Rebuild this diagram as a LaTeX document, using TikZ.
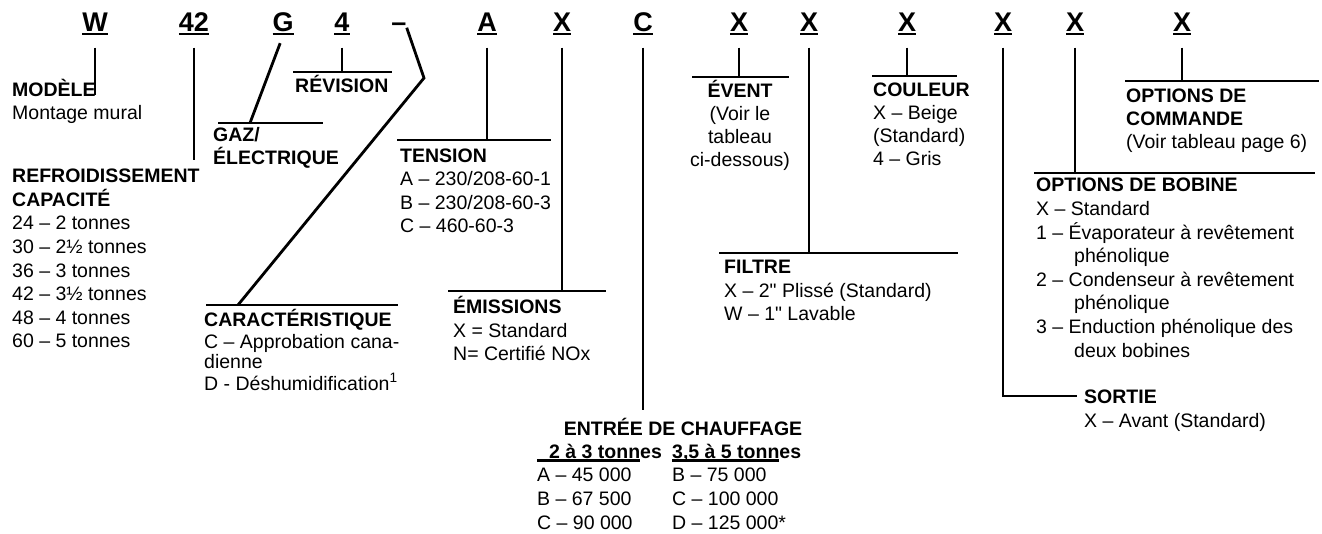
\documentclass[tikz,border=0pt]{standalone}
\usepackage{fontspec}
\setmainfont{Liberation Sans}
\newfontfamily\quotefont{Liberation Sans}

% thick underline under a piece of text
\newcommand{\ulbar}[1]{\setbox0\hbox{#1}\rlap{\rule[-3.5pt]{\wd0}{2.4pt}}\box0}
% straight inch mark
\newcommand{\inch}{{\quotefont"}}

\begin{document}
\begin{tikzpicture}[x=1pt, y=-1pt,
    code/.style={font=\fontsize{27}{30}\selectfont\bfseries, inner sep=0pt, anchor=base},
    field/.style={font=\fontsize{19.5}{23.6}\selectfont, align=left, anchor=base west, inner sep=0pt},
    lead/.style={line width=2.8pt},
    stem/.style={lead, shorten <=12pt}
]
    \useasboundingbox (0,0) rectangle (1322,534);

    % Model number characters
    \node[code] (cW) at (95,32) {\ulbar{W}};
    \node[code] (c42) at (194,32) {\ulbar{42}};
    \node[code] (cG) at (283,32) {\ulbar{G}};
    \node[code] (c4) at (342,32) {\ulbar{4}};
    \node[code] (cdash) at (399,32) {–};
    \node[code] (cA) at (487,32) {\ulbar{A}};
    \node[code] (cXemi) at (562,32) {\ulbar{X}};
    \node[code] (cC) at (643,32) {\ulbar{C}};
    \node[code] (cXeve) at (739,32) {\ulbar{X}};
    \node[code] (cXfil) at (809,32) {\ulbar{X}};
    \node[code] (cXcou) at (907,32) {\ulbar{X}};
    \node[code] (cXsor) at (1003,32) {\ulbar{X}};
    \node[code] (cXbob) at (1075,32) {\ulbar{X}};
    \node[code] (cXcom) at (1182,32) {\ulbar{X}};

    % Field descriptions (placed at the baseline of their last line)
    \node[field] (modele) at (12,120) {\textbf{MODÈLE}\\Montage mural};
    \node[field] (refroid) at (12,348) {\textbf{REFROIDISSEMENT}\\\textbf{CAPACITÉ}\\24 – 2 tonnes\\30 – 2½ tonnes\\36 – 3 tonnes\\42 – 3½ tonnes\\48 – 4 tonnes\\60 – 5 tonnes};
    \node[field] (gaz) at (213,165) {\textbf{GAZ/}\\\textbf{ÉLECTRIQUE}};
    \node[field] (revision) at (295,93) {\textbf{RÉVISION}};
    \node[field] (tension) at (400,233) {\textbf{TENSION}\\A – 230/208-60-1\\B – 230/208-60-3\\C – 460-60-3};
    \node[field, font=\fontsize{19.5}{21}\selectfont] (caract) at (204,390) {\textbf{CARACTÉRISTIQUE}\\C – Approbation cana-\\dienne\\D - Déshumidification\textsuperscript{1}};
    \node[field] (emissions) at (453,361) {\textbf{ÉMISSIONS}\\X = Standard\\N= Certifié NOx};
    \node[field, font=\fontsize{19.5}{23}\selectfont, align=center, anchor=base] (event) at (740,167) {\textbf{ÉVENT}\\(Voir le\\tableau\\ci-dessous)};
    \node[field] (filtre) at (724,321) {\textbf{FILTRE}\\X – 2\inch{} Plissé (Standard)\\W – 1\inch{} Lavable};
    \node[field, font=\fontsize{19.5}{23}\selectfont] (couleur) at (873,166) {\textbf{COULEUR}\\X – Beige\\(Standard)\\4 – Gris};
    \node[field, font=\fontsize{19.5}{23}\selectfont] (commande) at (1126,149) {\textbf{OPTIONS DE}\\\textbf{COMMANDE}\\(Voir tableau page 6)};
    \node[field] (bobine) at (1036,357) {\textbf{OPTIONS DE BOBINE}\\X – Standard\\1 – Évaporateur à revêtement\\\hspace*{38pt}phénolique\\2 – Condenseur à revêtement\\\hspace*{38pt}phénolique\\3 – Enduction phénolique des\\\hspace*{38pt}deux bobines};
    \node[field] (sortie) at (1084,427) {\textbf{SORTIE}\\X – Avant (Standard)};

    % Heating input table
    \node[field, anchor=base] (entree) at (683,435) {\textbf{ENTRÉE DE CHAUFFAGE}};
    \node[field] (chauffA) at (537,529) {\textbf{\ulbar{\hspace{12pt}2 à 3 tonn}es}\\A – 45 000\\B – 67 500\\C – 90 000};
    \node[field] (chauffB) at (672,529) {\textbf{\ulbar{3,5 à 5 tonn}es}\\B – 75 000\\C – 100 000\\D – 125 000*};

    % Bar ends and bends
    \coordinate (refEnd) at (194,160);
    \coordinate (revL) at (293,72);   \coordinate (revR) at (392,72);
    \coordinate (gazL) at (218,123);  \coordinate (gazR) at (323,123);
    \coordinate (gazP) at (250,123);
    \coordinate (tenL) at (397,140);  \coordinate (tenR) at (551,140);
    \coordinate (emiL) at (448,291);  \coordinate (emiR) at (606,291);
    \coordinate (carL) at (206,305);  \coordinate (carR) at (398,305);
    \coordinate (carP) at (238,305);
    \coordinate (dashBend) at (424,78);
    \coordinate (eveL) at (692,77);   \coordinate (eveR) at (789,77);
    \coordinate (filL) at (719,253);  \coordinate (filR) at (958,253);
    \coordinate (couL) at (872,76);   \coordinate (couR) at (957,76);
    \coordinate (comL) at (1125,81);  \coordinate (comR) at (1319,81);
    \coordinate (bobL) at (1034,173); \coordinate (bobR) at (1315,173);
    \coordinate (sorE) at (1077,396);
    \coordinate (entEnd) at (643,410);

    % Bars
    \draw[lead] (revL) -- (revR);
    \draw[lead] (gazL) -- (gazR);
    \draw[lead] (tenL) -- (tenR);
    \draw[lead] (emiL) -- (emiR);
    \draw[lead] (carL) -- (carR);
    \draw[lead] (eveL) -- (eveR);
    \draw[lead] (filL) -- (filR);
    \draw[lead] (couL) -- (couR);
    \draw[lead] (comL) -- (comR);
    \draw[lead] (bobL) -- (bobR);

    % Leaders from characters
    \draw[stem] (cW.south) -- (cW.south |- 0,95);
    \draw[stem] (c42.south) -- (refEnd);
    \draw[lead, shorten <=8pt] (cG.south) -- (gazP);
    \draw[stem] (c4.south) -- (c4.south |- revL);
    \draw[lead] (cdash.east) -- (dashBend) -- (carP);
    \draw[stem] (cA.south) -- (cA.south |- tenL);
    \draw[stem] (cXemi.south) -- (cXemi.south |- emiL);
    \draw[stem] (cC.south) -- (cC.south |- entEnd);
    \draw[stem] (cXeve.south) -- (cXeve.south |- eveL);
    \draw[stem] (cXfil.south) -- (cXfil.south |- filL);
    \draw[stem] (cXcou.south) -- (cXcou.south |- couL);
    \draw[stem] (cXsor.south) -- (cXsor.south |- sorE) -- (sorE);
    \draw[stem] (cXbob.south) -- (cXbob.south |- bobL);
    \draw[stem] (cXcom.south) -- (cXcom.south |- comL);

\end{tikzpicture}
\end{document}
